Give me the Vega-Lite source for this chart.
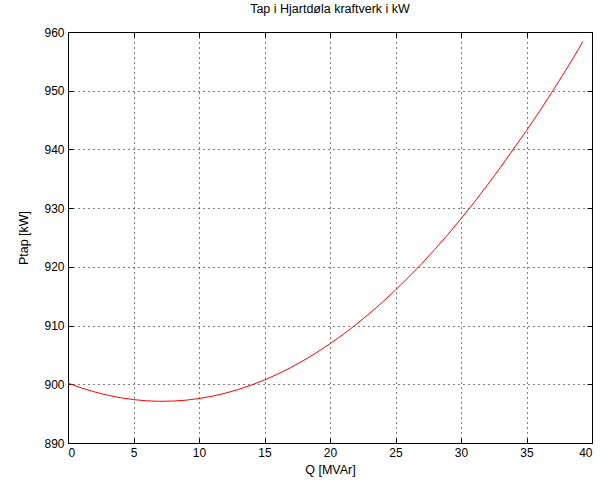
{
  "$schema": "https://vega.github.io/schema/vega-lite/v6.json",
  "autosize": "none",
  "padding": {"left": 68, "top": 32, "right": 8, "bottom": 47},
  "width": 524,
  "height": 411,
  "background": "white",
  "title": {"text": "Tap i Hjartdøla kraftverk i kW", "font": "Liberation Sans", "fontSize": 12.5, "fontWeight": "normal", "color": "black", "offset": 11},
  "config": {
    "view": {"stroke": "black", "strokeWidth": 1},
    "axis": {"labelFont": "Liberation Sans", "titleFont": "Liberation Sans", "labelFontSize": 12, "titleFontSize": 12.5, "titleFontWeight": "normal", "labelColor": "black", "titleColor": "black", "domainColor": "black", "tickColor": "black", "gridColor": "black", "gridDash": [1, 4], "gridOpacity": 1, "tickSize": -5, "labelPadding": 9}
  },
  "data": {"values": [
    {"Q": 0, "P": 900.2}, {"Q": 1, "P": 899.4}, {"Q": 2, "P": 898.72}, {"Q": 3, "P": 898.15},
    {"Q": 4, "P": 897.71}, {"Q": 5, "P": 897.39}, {"Q": 6, "P": 897.19}, {"Q": 7, "P": 897.1},
    {"Q": 8, "P": 897.14}, {"Q": 9, "P": 897.29}, {"Q": 10, "P": 897.57}, {"Q": 11, "P": 897.96},
    {"Q": 12, "P": 898.48}, {"Q": 13, "P": 899.11}, {"Q": 14, "P": 899.87}, {"Q": 15, "P": 900.74},
    {"Q": 16, "P": 901.73}, {"Q": 17, "P": 902.84}, {"Q": 18, "P": 904.08}, {"Q": 19, "P": 905.43},
    {"Q": 20, "P": 906.9}, {"Q": 21, "P": 908.49}, {"Q": 22, "P": 910.2}, {"Q": 23, "P": 912.03},
    {"Q": 24, "P": 913.98}, {"Q": 25, "P": 916.05}, {"Q": 26, "P": 918.24}, {"Q": 27, "P": 920.54},
    {"Q": 28, "P": 922.97}, {"Q": 29, "P": 925.52}, {"Q": 30, "P": 928.19}, {"Q": 31, "P": 930.97},
    {"Q": 32, "P": 933.88}, {"Q": 33, "P": 936.91}, {"Q": 34, "P": 940.05}, {"Q": 35, "P": 943.2},
    {"Q": 36, "P": 946.5}, {"Q": 37, "P": 949.95}, {"Q": 38, "P": 953.5}, {"Q": 39, "P": 957.2},
    {"Q": 39.3, "P": 958.4}
  ]},
  "layer": [
    {
      "mark": {"type": "line", "color": "#ff0000", "strokeWidth": 1, "clip": true},
      "encoding": {
        "x": {"field": "Q", "type": "quantitative", "scale": {"domain": [0, 40], "nice": false}, "axis": {"title": "Q [MVAr]", "values": [0, 5, 10, 15, 20, 25, 30, 35, 40], "grid": true, "titlePadding": 5}},
        "y": {"field": "P", "type": "quantitative", "scale": {"domain": [890, 960], "nice": false, "zero": false}, "axis": {"title": "Ptap [kW]", "values": [890, 900, 910, 920, 930, 940, 950, 960], "grid": true, "titlePadding": 13}}
      }
    },
    {
      "mark": {"type": "line", "opacity": 0},
      "encoding": {
        "x": {"field": "Q", "type": "quantitative", "axis": {"orient": "top", "labels": false, "title": null, "grid": false, "values": [0, 5, 10, 15, 20, 25, 30, 35, 40]}},
        "y": {"field": "P", "type": "quantitative", "axis": {"orient": "right", "labels": false, "title": null, "grid": false, "values": [890, 900, 910, 920, 930, 940, 950, 960]}}
      }
    }
  ],
  "resolve": {"axis": {"x": "independent", "y": "independent"}}
}
